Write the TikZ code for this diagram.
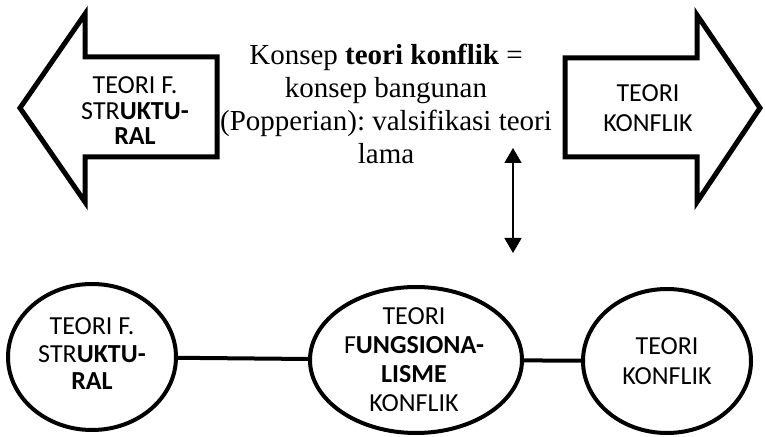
\documentclass[tikz,border=0pt]{standalone}
\usepackage{fontspec}
\setmainfont{Liberation Serif}
\newfontfamily\calibri{Carlito}
\usepackage{tikz}
\usetikzlibrary{positioning}
\usetikzlibrary{calc}
\usetikzlibrary{shapes.geometric,arrows.meta}
\frenchspacing
\tikzstyle{blockarrow}=
[line width=2.5pt,miter limit=10]
\tikzstyle{ball}=
[ellipse,draw=black,line width=2pt,inner sep=0pt]
\tikzstyle{link}=
[line width=2pt]
\tikzstyle{dblarrow}=
[line width=0.8pt,<->,>={Triangle[length=7.5pt,width=8.5pt]}]
\tikzstyle{caps}=
[align=center,inner sep=0pt,font=\calibri]

\begin{document}
\begin{tikzpicture}[x=0.5pt,y=-0.5pt]
\useasboundingbox (0,0) rectangle (765,437);
% panah besar kiri dan kanan
\draw[blockarrow](217,57)--(85,57)--(85,14)--(20,108)--(85,202)--(85,157)--(217,157)--cycle;
\draw[blockarrow](565,58)--(697,58)--(697,15)--(760,108)--(697,202)--(697,157)--(565,157)--cycle;
\node (LA)
[caps,
font=\calibri\fontsize{13}{12.75}\selectfont]
at (135,111)
{TEORI F.\\STR\textbf{UKTU-}\\\textbf{RAL}};
\node (RA)
[caps,
font=\calibri\fontsize{13}{15}\selectfont]
at (648,108)
{TEORI\\KONFLIK};
\node (T)
[align=center,
inner sep=0pt,
font=\fontsize{14.5}{16.5}\selectfont]
at (386,104)
{Konsep \textbf{teori konflik} =\\konsep bangunan\\(Popperian): valsifikasi teori\\lama};
\coordinate (up) at (513,148);
\coordinate (dn) at (513,253);
\draw[dblarrow](up)--(dn);
% lingkaran bawah
\node (A)
[ball,
minimum width=84pt,
minimum height=73pt]
at (92,357) {};
\node (B)
[ball,
minimum width=106pt,
minimum height=73pt]
at (416,360) {};
\node (C)
[ball,
minimum width=84pt,
minimum height=72pt]
at (667,361) {};
\draw[link](A)--(B);
\draw[link](B)--(C);
\node (A_t)
[caps,
font=\calibri\fontsize{13}{13.75}\selectfont]
at (92,354)
{TEORI F.\\STR\textbf{UKTU-}\\\textbf{RAL}};
\node (B_t)
[caps,
font=\calibri\fontsize{13}{14.5}\selectfont]
at (414,360)
{TEORI\\F\textbf{UNGSIONA-}\\\textbf{LISME}\\KONFLIK};
\node (C_t)
[caps,
font=\calibri\fontsize{13}{15}\selectfont]
at (667,361)
{TEORI\\KONFLIK};
\end{tikzpicture}
\end{document}
